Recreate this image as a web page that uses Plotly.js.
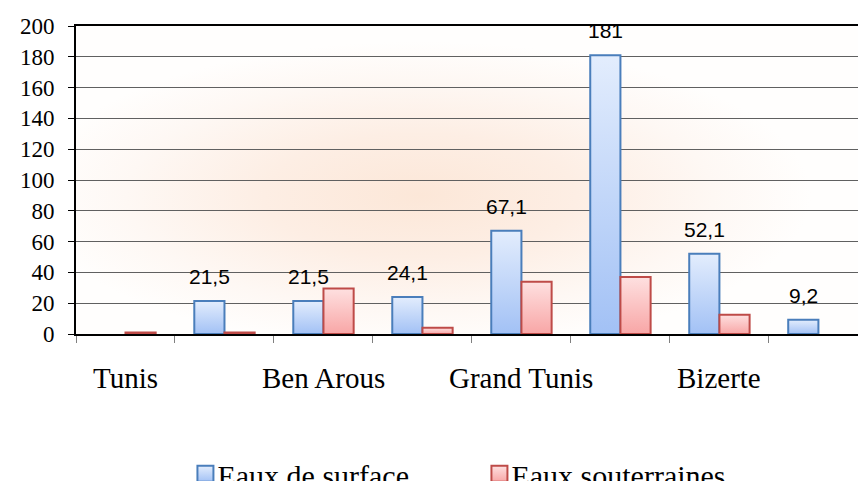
<!DOCTYPE html>
<html>
<head>
<meta charset="utf-8">
<script src="https://cdn.plot.ly/plotly-3.0.1.min.js"></script>
<style>
  html, body { margin: 0; padding: 0; background: #ffffff; }
  #chart { width: 858px; height: 481px; }
  #chart .ytick text { font-family: 'Liberation Serif', 'Times New Roman', serif !important; }
</style>
</head>
<body>
<div id="chart"></div>
<script>
// ---- data ----
const tickLabels = ["Tunis", "", "Ben Arous", "", "Grand Tunis", "", "Bizerte", ""];
const seriesNames = ["Eaux de surface", "Eaux souterraines"];
const surface = [null, 21.5, 21.5, 24.1, 67.1, 181, 52.1, 9.2];
const souterraines = [1, 1, 29.5, 4, 34, 37, 12.5, null];

const SERIF = "Liberation Serif";
const SANS = "Liberation Sans";

const xIdx = tickLabels.map((_, i) => i);
const boundaries = xIdx.concat([xIdx.length]).map(i => i - 0.5);

const BARGAP = 0.39;
const barW = (1 - BARGAP) / 2;
const blueOffset = -barW / 2;

const traces = [
  {
    type: 'bar', name: seriesNames[0], x: xIdx, y: surface,
    marker: { color: '#c5d9fb', line: { color: '#4a7ebb', width: 2 } },
    hoverinfo: 'skip'
  },
  {
    type: 'bar', name: seriesNames[1], x: xIdx, y: souterraines,
    marker: { color: '#fcc3c3', line: { color: '#be4b48', width: 2 } },
    hoverinfo: 'skip'
  }
];

const annotations = [];
surface.forEach((v, i) => {
  if (v === null || v === 0) return;
  annotations.push({
    x: i + blueOffset, y: v, xref: 'x', yref: 'y',
    text: String(v).replace('.', ','), showarrow: false,
    yanchor: 'bottom', yshift: 11,
    font: { family: SANS, size: 21, color: '#000' }
  });
});
tickLabels.forEach((t, i) => {
  if (!t) return;
  annotations.push({
    x: i, y: 0, xref: 'x', yref: 'paper',
    text: t, showarrow: false, yanchor: 'top', yshift: -26,
    font: { family: SERIF, size: 29, color: '#000' }
  });
});

const bgSvg = "<svg xmlns='http://www.w3.org/2000/svg' width='782' height='308' viewBox='0 0 782 308' preserveAspectRatio='none'>" +
  "<defs><radialGradient id='r' cx='0.44' cy='0.55' r='0.5'>" +
  "<stop offset='0' stop-color='#fce7d8'/><stop offset='0.4' stop-color='#fdeee4'/>" +
  "<stop offset='0.75' stop-color='#fef8f4'/><stop offset='1' stop-color='#fffefd'/>" +
  "</radialGradient></defs><rect width='782' height='308' fill='url(#r)'/></svg>";

const layout = {
  width: 858, height: 481,
  margin: { l: 76, r: 0, t: 26, b: 147 },
  font: { family: SERIF, color: '#000' },
  paper_bgcolor: '#ffffff',
  plot_bgcolor: 'rgba(0,0,0,0)',
  barmode: 'group', bargap: BARGAP, bargroupgap: 0,
  showlegend: true,
  legend: {
    orientation: 'h', xref: 'container', yref: 'container',
    x: 0.2068, y: 0.069, xanchor: 'left', yanchor: 'top',
    entrywidth: 249, entrywidthmode: 'pixels',
    font: { family: SERIF, size: 30, color: '#000' },
    bgcolor: 'rgba(0,0,0,0)'
  },
  images: [{
    source: 'data:image/svg+xml;charset=utf-8,' + encodeURIComponent(bgSvg),
    xref: 'paper', yref: 'paper', x: 0, y: 1, sizex: 1, sizey: 1,
    xanchor: 'left', yanchor: 'top', sizing: 'stretch', layer: 'below'
  }],
  xaxis: {
    range: [-0.5, 7.4], tickmode: 'array', tickvals: boundaries,
    showticklabels: false, ticks: 'outside', ticklen: 7, tickwidth: 1, tickcolor: '#808080',
    showgrid: false, zeroline: false,
    showline: true, linecolor: '#000', linewidth: 2, mirror: true,
    fixedrange: true
  },
  yaxis: {
    range: [0, 200], dtick: 20, tick0: 0,
    ticks: 'outside', ticklen: 6, tickwidth: 1, tickcolor: '#000',
    ticklabelstandoff: 9,
    showgrid: true, gridcolor: '#606060', gridwidth: 1,
    zeroline: false, showline: true, linecolor: '#000', linewidth: 2,
    tickfont: { family: SERIF, size: 23, color: '#000' },
    fixedrange: true
  },
  annotations: annotations
};

Plotly.newPlot('chart', traces, layout, { displayModeBar: false, staticPlot: true }).then(gd => {
  const NS = 'http://www.w3.org/2000/svg';
  const svg = gd.querySelector('svg.main-svg');
  let defs = svg.querySelector('defs');
  if (!defs) { defs = document.createElementNS(NS, 'defs'); svg.insertBefore(defs, svg.firstChild); }
  function lin(id, top, bottom) {
    const g = document.createElementNS(NS, 'linearGradient');
    g.setAttribute('id', id); g.setAttribute('x1', '0'); g.setAttribute('y1', '0');
    g.setAttribute('x2', '0'); g.setAttribute('y2', '1');
    [[0, top], [1, bottom]].forEach(([o, c]) => {
      const s = document.createElementNS(NS, 'stop');
      s.setAttribute('offset', o); s.setAttribute('stop-color', c);
      g.appendChild(s);
    });
    defs.appendChild(g);
  }
  lin('gBlue', '#e3edfd', '#a2c1f5');
  lin('gRed', '#fee0e0', '#f8a6a6');
  const ids = ['gBlue', 'gRed'];
  gd.querySelectorAll('.barlayer .trace').forEach((t, k) => {
    t.querySelectorAll('path').forEach(p => { p.style.fill = 'url(#' + ids[k] + ')'; });
  });
  gd.querySelectorAll('.legend .traces').forEach((t, k) => {
    t.querySelectorAll('.legendpoints path').forEach(p => {
      p.setAttribute('d', 'M16,8H0V-8H16Z');
      p.style.fill = 'url(#' + ids[k] + ')';
    });
  });
  gd.querySelectorAll('.ytick text').forEach(t => {
    t.style.fontFamily = "'Liberation Serif', serif";
  });
});
</script>
</body>
</html>
